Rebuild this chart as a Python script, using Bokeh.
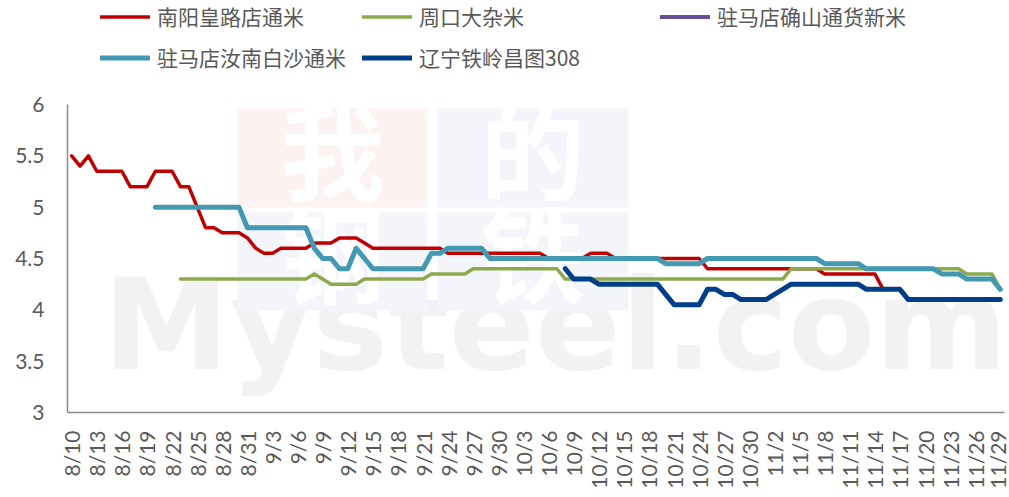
import math
from datetime import date, timedelta
from bokeh.plotting import figure
from bokeh.models import (FixedTicker, Legend, LegendItem, BoxAnnotation, Label,
                          Range1d, NumeralTickFormatter)
from bokeh.embed import file_html
from bokeh.resources import INLINE

nan = float("nan")

# ---------------- data ----------------
start = date(2022, 8, 10)
n_days = 112
dates = [(start + timedelta(days=i)) for i in range(n_days)]
day_idx = list(range(n_days))

tick_labels = ["8/10", "8/13", "8/16", "8/19", "8/22", "8/25", "8/28", "8/31",
               "9/3", "9/6", "9/9", "9/12", "9/15", "9/18", "9/21", "9/24", "9/27", "9/30",
               "10/3", "10/6", "10/9", "10/12", "10/15", "10/18", "10/21", "10/24", "10/27", "10/30",
               "11/2", "11/5", "11/8", "11/11", "11/14", "11/17", "11/20", "11/23", "11/26", "11/29"]

names = ["南阳皇路店通米", "周口大杂米", "驻马店确山通货新米", "驻马店汝南白沙通米", "辽宁铁岭昌图308"]

nanyang = [
    5.5, 5.4, 5.5, 5.35, 5.35, 5.35, 5.35, 5.2, 5.2, 5.2,
    5.35, 5.35, 5.35, 5.2, 5.2, 5.0, 4.8, 4.8, 4.75, 4.75,
    4.75, 4.7, 4.6, 4.55, 4.55, 4.6, 4.6, 4.6, 4.6, 4.65,
    4.65, 4.65, 4.7, 4.7, 4.7, 4.65, 4.6, 4.6, 4.6, 4.6,
    4.6, 4.6, 4.6, 4.6, 4.6, 4.55, 4.55, 4.55, 4.55, 4.55,
    4.55, 4.55, 4.55, 4.55, 4.55, 4.55, 4.55, 4.5, 4.5, 4.5,
    4.5, 4.5, 4.55, 4.55, 4.55, 4.5, 4.5, 4.5, 4.5, 4.5,
    4.5, 4.5, 4.5, 4.5, 4.5, 4.5, 4.4, 4.4, 4.4, 4.4,
    4.4, 4.4, 4.4, 4.4, 4.4, 4.4, 4.4, 4.4, 4.4, 4.4,
    4.35, 4.35, 4.35, 4.35, 4.35, 4.35, 4.35, 4.2, nan, nan,
    nan, nan, nan, nan, nan, nan, nan, nan, nan, nan,
    nan, nan,
]

zhoukou = [
    nan, nan, nan, nan, nan, nan, nan, nan, nan, nan,
    nan, nan, nan, 4.3, 4.3, 4.3, 4.3, 4.3, 4.3, 4.3,
    4.3, 4.3, 4.3, 4.3, 4.3, 4.3, 4.3, 4.3, 4.3, 4.35,
    4.3, 4.25, 4.25, 4.25, 4.25, 4.3, 4.3, 4.3, 4.3, 4.3,
    4.3, 4.3, 4.3, 4.35, 4.35, 4.35, 4.35, 4.35, 4.4, 4.4,
    4.4, 4.4, 4.4, 4.4, 4.4, 4.4, 4.4, 4.4, 4.4, 4.3,
    4.3, 4.3, 4.3, 4.3, 4.3, 4.3, 4.3, 4.3, 4.3, 4.3,
    4.3, 4.3, 4.3, 4.3, 4.3, 4.3, 4.3, 4.3, 4.3, 4.3,
    4.3, 4.3, 4.3, 4.3, 4.3, 4.3, 4.4, 4.4, 4.4, 4.4,
    4.4, 4.4, 4.4, 4.4, 4.4, 4.4, 4.4, 4.4, 4.4, 4.4,
    4.4, 4.4, 4.4, 4.4, 4.4, 4.4, 4.4, 4.35, 4.35, 4.35,
    4.35, 4.2,
]

queshan = [nan] * n_days  # no visible data in the reference

runan = [
    nan, nan, nan, nan, nan, nan, nan, nan, nan, nan,
    5.0, 5.0, 5.0, 5.0, 5.0, 5.0, 5.0, 5.0, 5.0, 5.0,
    5.0, 4.8, 4.8, 4.8, 4.8, 4.8, 4.8, 4.8, 4.8, 4.6,
    4.5, 4.5, 4.4, 4.4, 4.6, 4.5, 4.4, 4.4, 4.4, 4.4,
    4.4, 4.4, 4.4, 4.55, 4.55, 4.6, 4.6, 4.6, 4.6, 4.6,
    4.5, 4.5, 4.5, 4.5, 4.5, 4.5, 4.5, 4.5, 4.5, 4.5,
    4.5, 4.5, 4.5, 4.5, 4.5, 4.5, 4.5, 4.5, 4.5, 4.5,
    4.5, 4.45, 4.45, 4.45, 4.45, 4.45, 4.5, 4.5, 4.5, 4.5,
    4.5, 4.5, 4.5, 4.5, 4.5, 4.5, 4.5, 4.5, 4.5, 4.5,
    4.45, 4.45, 4.45, 4.45, 4.45, 4.4, 4.4, 4.4, 4.4, 4.4,
    4.4, 4.4, 4.4, 4.4, 4.35, 4.35, 4.35, 4.3, 4.3, 4.3,
    4.3, 4.2,
]

tieling = [
    nan, nan, nan, nan, nan, nan, nan, nan, nan, nan,
    nan, nan, nan, nan, nan, nan, nan, nan, nan, nan,
    nan, nan, nan, nan, nan, nan, nan, nan, nan, nan,
    nan, nan, nan, nan, nan, nan, nan, nan, nan, nan,
    nan, nan, nan, nan, nan, nan, nan, nan, nan, nan,
    nan, nan, nan, nan, nan, nan, nan, nan, nan, 4.4,
    4.3, 4.3, 4.3, 4.25, 4.25, 4.25, 4.25, 4.25, 4.25, 4.25,
    4.25, 4.15, 4.05, 4.05, 4.05, 4.05, 4.2, 4.2, 4.15, 4.15,
    4.1, 4.1, 4.1, 4.1, 4.15, 4.2, 4.25, 4.25, 4.25, 4.25,
    4.25, 4.25, 4.25, 4.25, 4.25, 4.2, 4.2, 4.2, 4.2, 4.2,
    4.1, 4.1, 4.1, 4.1, 4.1, 4.1, 4.1, 4.1, 4.1, 4.1,
    4.1, 4.1,
]

colors = ["#C00000", "#8CA94C", "#674E98", "#4398B2", "#003E8A"]
widths = [3.5, 3.5, 4, 5, 5]

# ---------------- figure ----------------
W, H = 1009, 497
FRAME_L, FRAME_R, FRAME_B = 67, 1004, 412      # frame edges in px
Y6_PX = 104                                     # px row of value 6
PX_PER_UNIT = (FRAME_B - Y6_PX) / 3.0
y_top = 3 + FRAME_B / PX_PER_UNIT

p = figure(width=W, height=H, output_backend="svg", toolbar_location=None,
           x_range=Range1d(-0.5, n_days - 0.5), y_range=Range1d(3, y_top),
           min_border_left=FRAME_L, min_border_right=W - FRAME_R, min_border_top=0,
           min_border_bottom=H - FRAME_B)
p.outline_line_color = None
p.xgrid.visible = False
p.ygrid.visible = False
p.background_fill_color = "white"
p.border_fill_color = "white"


def dx(px):
    return (px - FRAME_L) / ((FRAME_R - FRAME_L) / n_days) - 0.5


def dy(py):
    return 3 + (FRAME_B - py) / PX_PER_UNIT


# ---------------- watermark ----------------
p.add_layout(Label(x=dx(555), y=dy(324), text="Mysteel.com", text_align="center",
                   text_baseline="alphabetic", text_font="DejaVu Sans", text_font_style="bold",
                   text_font_size="127px", text_color="#F2F2F2", level="underlay"))
boxes = [((237, 427, 108, 207), "#FDF2F2", "我"), ((437, 628, 108, 207), "#F4F5FA", "的"),
         ((237, 427, 212, 310), "#F4F5FA", "钢"), ((437, 628, 212, 310), "#F4F5FA", "铁")]
for (l, r, t, b), col, ch in boxes:
    p.add_layout(BoxAnnotation(left=dx(l), right=dx(r), top=dy(t), bottom=dy(b),
                               fill_color=col, fill_alpha=1, line_alpha=0, level="underlay"))
    p.add_layout(Label(x=dx((l + r) / 2), y=dy((t + b) / 2 - 11), text=ch, text_align="center",
                       text_baseline="middle", text_font="Noto Sans CJK SC", text_font_style="bold",
                       text_font_size="104px", text_color="white", level="underlay"))

# ---------------- lines ----------------
series = [nanyang, zhoukou, queshan, runan, tieling]
renderers = []
for vals, col, w in zip(series, colors, widths):
    r = p.line(day_idx, vals, line_color=col, line_width=w, line_join="round", line_cap="round")
    renderers.append(r)

# ---------------- axes ----------------
p.xaxis.ticker = FixedTicker(ticks=list(range(0, n_days, 3)))
p.xaxis.major_label_overrides = {i * 3: lab for i, lab in enumerate(tick_labels)}
p.xaxis.major_label_orientation = math.pi / 2
p.xaxis.major_label_standoff = 18
p.yaxis.ticker = FixedTicker(ticks=[3, 3.5, 4, 4.5, 5, 5.5, 6])
p.yaxis.formatter = NumeralTickFormatter(format="0.[0]")
p.yaxis.major_label_standoff = 23
p.yaxis.bounds = (3, 6)
for ax in (p.xaxis, p.yaxis):
    ax.axis_line_color = "#8A8A8A"
    ax.axis_line_width = 1.5
    ax.major_tick_line_color = None
    ax.minor_tick_line_color = None
    ax.major_tick_out = 0
    ax.major_label_text_font = "Lato"
    ax.major_label_text_font_size = "21px"
    ax.major_label_text_color = "#595959"

# ---------------- legends ----------------
ROW_H, ROW_GAP = 31, 10
LEG_TOP = 0.5


def add_legend(idx_list, left_px):
    items = [LegendItem(label=names[i], renderers=[renderers[i]]) for i in idx_list]
    height = len(idx_list) * ROW_H + (len(idx_list) - 1) * ROW_GAP
    loc = (left_px - FRAME_L, FRAME_B - (LEG_TOP + height))
    lg = Legend(items=items, location=loc, orientation="vertical", margin=0, padding=0,
                spacing=ROW_GAP, glyph_width=50, glyph_height=ROW_H, label_height=ROW_H,
                label_standoff=7, label_text_font="Noto Sans CJK SC", label_text_font_size="21px",
                label_text_color="#595959", border_line_color=None, background_fill_alpha=0)
    p.add_layout(lg, "center")


add_legend([0, 3], 100)
add_legend([1, 4], 362)
add_legend([2], 660)

open("out.html", "w").write(file_html(p, INLINE))
